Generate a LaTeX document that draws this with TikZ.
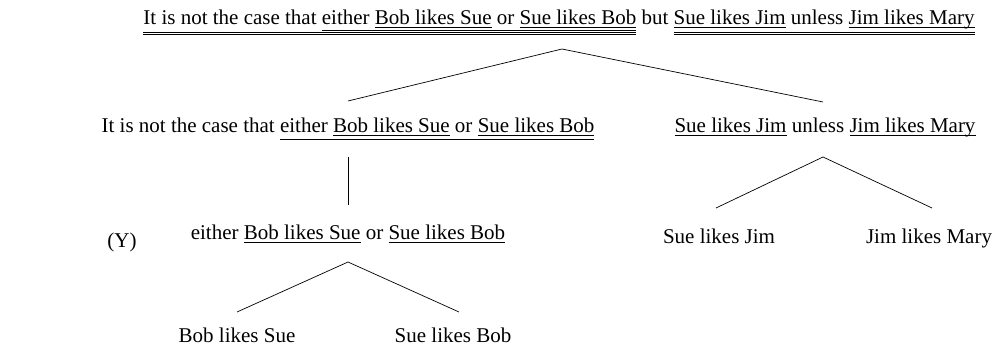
\documentclass[tikz,border=0pt]{standalone}
\usepackage{fontspec}
\setmainfont{Liberation Serif}
\newcommand\Ul[2]{\setbox0\hbox{#2}\rlap{\raisebox{-#1}{\rule{\wd0}{0.6pt}}}\box0\relax}
\newcommand\Uld[2]{\setbox0\hbox{#2}\rlap{\raisebox{-#1}{\rule{\wd0}{0.6pt}}}\rlap{\raisebox{-\dimexpr#1+1.8pt\relax}{\rule{\wd0}{0.6pt}}}\box0\relax}
\tikzset{
  sent/.style={anchor=base, inner sep=0pt, font=\fontsize{21}{25}\selectfont},
  branch/.style={line width=0.7pt}
}
\begin{document}
\begin{tikzpicture}[x=1pt,y=-1pt]
\useasboundingbox (0,0) rectangle (995,352);
\node[sent] (top) at (559,25) {\Uld{7.8pt}{It is not the case that \Ul{5.3pt}{either \Ul{3pt}{Bob likes Sue} or \Ul{3pt}{Sue likes Bob}}} but \Uld{7.8pt}{\Ul{3pt}{Sue likes Jim} unless \Ul{3pt}{Jim likes Mary}}};
\node[sent] (L) at (348,133) {It is not the case that \Ul{6.5pt}{either \Ul{3pt}{Bob likes Sue} or \Ul{3pt}{Sue likes Bob}}};
\node[sent] (R) at (825,133) {\Ul{3pt}{Sue likes Jim} unless \Ul{3pt}{Jim likes Mary}};
\node[sent] (Y) at (122,248) {(Y)};
\node[sent] (M) at (348,240) {either \Ul{3pt}{Bob likes Sue} or \Ul{3pt}{Sue likes Bob}};
\node[sent] (BS) at (237,342) {Bob likes Sue};
\node[sent] (SB) at (453,342) {Sue likes Bob};
\node[sent] (SJ) at (719,244) {Sue likes Jim};
\node[sent] (JM) at (929,244) {Jim likes Mary};
\coordinate (t0) at (562,49);
\coordinate (tL) at (348,101);
\coordinate (tR) at (823,102);
\coordinate (l0) at (348,157);
\coordinate (l1) at (348,205);
\coordinate (m0) at (348,262);
\coordinate (mBS) at (237,312);
\coordinate (mSB) at (459,312);
\coordinate (r0) at (823,157);
\coordinate (rSJ) at (716,208);
\coordinate (rJM) at (932,208);
\draw[branch] (tL) -- (t0) -- (tR);
\draw[branch] (l0) -- (l1);
\draw[branch] (mBS) -- (m0) -- (mSB);
\draw[branch] (rSJ) -- (r0) -- (rJM);
\end{tikzpicture}
\end{document}
